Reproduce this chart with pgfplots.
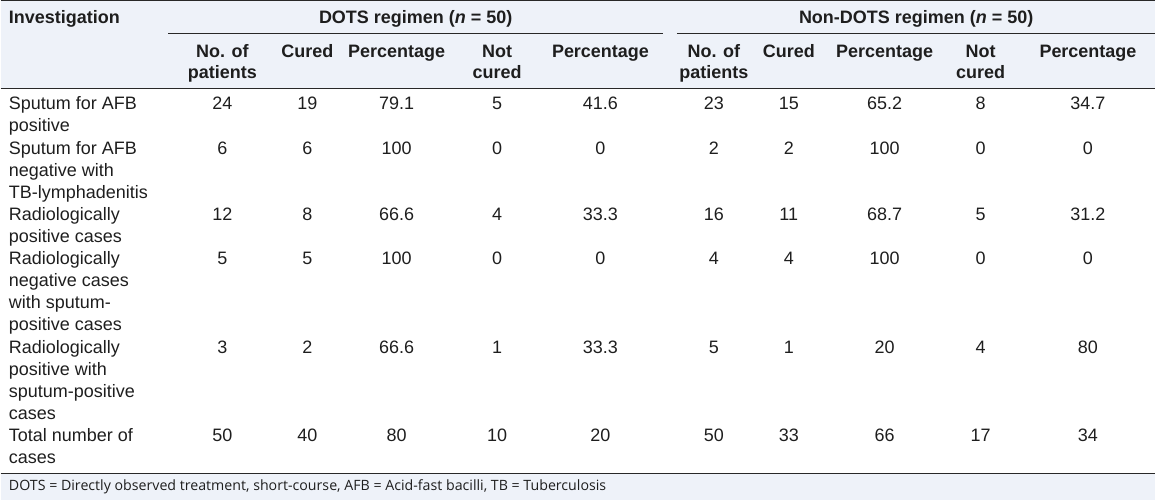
\documentclass[border=0pt]{standalone}
\usepackage{pgfplots}
\pgfplotsset{compat=1.18}
\usepackage{fontspec}
\setmainfont{Liberation Sans}
\newfontfamily\footfont{Open Sans}
\definecolor{hdr}{RGB}{238,242,249}
\definecolor{txt}{RGB}{30,30,30}
\definecolor{rule}{RGB}{40,40,40}
\newcommand{\TL}[3]{\node[anchor=base west,inner sep=0pt,text=txt] at (axis cs:#1,#2) {#3};}
\newcommand{\TC}[3]{\node[anchor=base,inner sep=0pt,text=txt] at (axis cs:#1,#2) {#3};}
\begin{document}
\begin{tikzpicture}
\begin{axis}[
  hide axis, scale only axis, width=578pt, height=250.5pt,
  xmin=0, xmax=1156, ymin=0, ymax=501, y dir=reverse, clip=false,
  font=\fontsize{9}{11}\selectfont]
% backgrounds
\addplot[fill=hdr, draw=none] coordinates {(0,0) (1156,0) (1156,88) (0,88)} -- cycle;
\addplot[fill=hdr, draw=none] coordinates {(0,474) (1156,474) (1156,501) (0,501)} -- cycle;
% rules
\addplot[draw=rule, line width=0.6pt] coordinates {(0,0.6) (1156,0.6)};
\addplot[draw=rule, line width=0.5pt] coordinates {(168,33.3) (663,33.3)};
\addplot[draw=rule, line width=0.5pt] coordinates {(677,33.3) (1156,33.3)};
\addplot[draw=rule, line width=0.5pt] coordinates {(0,88.3) (1156,88.3)};
\addplot[draw=rule, line width=0.5pt] coordinates {(0,474) (1156,474)};
% header
\TL{8}{24}{\bfseries Investigation}
\TC{415.5}{24}{\bfseries DOTS regimen (\textit{n} = 50)}
\TC{916.5}{24}{\bfseries Non-DOTS regimen (\textit{n} = 50)}
\TC{222}{57.5}{\bfseries No. of}\TC{222}{78.5}{\bfseries patients}
\TC{307}{57.5}{\bfseries Cured}
\TC{396.5}{57.5}{\bfseries Percentage}
\TC{497}{57.5}{\bfseries Not}\TC{497}{78.5}{\bfseries cured}
\TC{600.5}{57.5}{\bfseries Percentage}
\TC{714}{57.5}{\bfseries No. of}\TC{714}{78.5}{\bfseries patients}
\TC{789}{57.5}{\bfseries Cured}
\TC{885}{57.5}{\bfseries Percentage}
\TC{981}{57.5}{\bfseries Not}\TC{981}{78.5}{\bfseries cured}
\TC{1088.5}{57.5}{\bfseries Percentage}
% row labels
\TL{8}{110}{Sputum for AFB}\TL{8}{131.5}{positive}
\TL{8}{154.5}{Sputum for AFB}\TL{8}{176.5}{negative with}\TL{8}{198.5}{TB-lymphadenitis}
\TL{8}{221}{Radiologically}\TL{8}{243}{positive cases}
\TL{8}{265}{Radiologically}\TL{8}{287}{negative cases}\TL{8}{309}{with sputum-}\TL{8}{331}{positive cases}
\TL{8}{353.5}{Radiologically}\TL{8}{375.5}{positive with}\TL{8}{397.5}{sputum-positive}\TL{8}{419.5}{cases}
\TL{8}{442}{Total number of}\TL{8}{464}{cases}
% footer
\node[anchor=base west,inner sep=0pt,text=txt,font=\footfont\fontsize{7.1}{8.5}\selectfont] at (axis cs:8,491.5) {DOTS = Directly observed treatment, short-course, AFB = Acid-fast bacilli, TB = Tuberculosis};
% values
\addplot[draw=none, mark=none, nodes near coords, point meta=explicit symbolic,
  every node near coord/.append style={anchor=base, inner sep=0pt, text=txt, font=\fontsize{9}{11}\selectfont}]
  table[x=x, y=y, meta=v] {
x y v
222 110 24
307 110 19
396.5 110 79.1
497 110 5
600.5 110 41.6
714 110 23
789 110 15
885 110 65.2
981 110 8
1088.5 110 34.7
222 154.5 6
307 154.5 6
396.5 154.5 100
497 154.5 0
600.5 154.5 0
714 154.5 2
789 154.5 2
885 154.5 100
981 154.5 0
1088.5 154.5 0
222 221 12
307 221 8
396.5 221 66.6
497 221 4
600.5 221 33.3
714 221 16
789 221 11
885 221 68.7
981 221 5
1088.5 221 31.2
222 265 5
307 265 5
396.5 265 100
497 265 0
600.5 265 0
714 265 4
789 265 4
885 265 100
981 265 0
1088.5 265 0
222 353.5 3
307 353.5 2
396.5 353.5 66.6
497 353.5 1
600.5 353.5 33.3
714 353.5 5
789 353.5 1
885 353.5 20
981 353.5 4
1088.5 353.5 80
222 442 50
307 442 40
396.5 442 80
497 442 10
600.5 442 20
714 442 50
789 442 33
885 442 66
981 442 17
1088.5 442 34
};
\end{axis}
\end{tikzpicture}
\end{document}
